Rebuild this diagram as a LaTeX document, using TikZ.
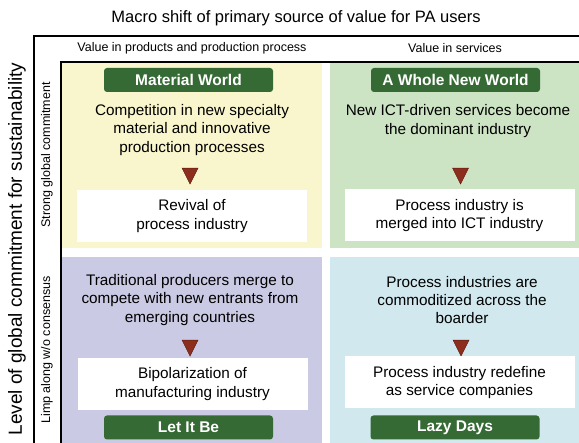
\documentclass[tikz,border=0pt]{standalone}
\usepackage{fontspec}
\setmainfont{Liberation Sans}
\usetikzlibrary{shapes.geometric}

\definecolor{quadyellow}{HTML}{F9F6CD}
\definecolor{quadgreen}{HTML}{CCE4C4}
\definecolor{quadpurple}{HTML}{CACAE4}
\definecolor{quadcyan}{HTML}{D0E8EE}
\definecolor{tabgreen}{HTML}{356A34}
\definecolor{tipred}{HTML}{8C2D1E}
\definecolor{tipdark}{HTML}{5A1A10}

\begin{document}
\begin{tikzpicture}[
  x=1pt, y=-1pt,
  frame/.style = {line width=1.4pt},
  body/.style = {align=center, inner sep=0pt, font=\fontsize{15.3}{18.4}\selectfont},
  head/.style = {inner sep=0pt, font=\fontsize{12.5}{15}\selectfont},
  tab/.style = {fill=tabgreen, rounded corners=3pt, text=white, inner sep=0pt,
    minimum width=169pt, minimum height=24pt, font=\bfseries\fontsize{15.5}{18}\selectfont},
  result/.style = {body, fill=white, minimum width=230pt, minimum height=52pt},
  tip/.style = {isosceles triangle, isosceles triangle apex angle=53, isosceles triangle stretches,
    shape border rotate=270, minimum width=16pt, minimum height=16pt,
    fill=tipred, draw=tipdark, line width=0.4pt, inner sep=0pt}
  ]
	\useasboundingbox (0,0) rectangle (579,443);

	% quadrants
	\fill[quadyellow] (62,62) rectangle (322,248);
	\fill[quadgreen]  (330,62) rectangle (590,248);
	\fill[quadpurple] (62,257) rectangle (322,450);
	\fill[quadcyan]   (330,257) rectangle (590,450);

	\draw[frame] (34,450) |- (590,36);
	\draw[frame] (61,450) |- (590,62);

	\node[font=\fontsize{16.5}{20}\selectfont] (title) at (296,18) {Macro shift of primary source of value for PA users};
	\node[head] (colprod) at (192,48) {Value in products and production process};
	\node[head] (colserv) at (455,48) {Value in services};

	\node[rotate=90, font=\fontsize{19}{22}\selectfont] (level) at (17,249) {Level of global commitment for sustainability};
	\node[head, rotate=90] (rowstrong) at (47,155) {Strong global commitment};
	\node[head, rotate=90] (rowlimp) at (47,350) {Limp along w/o consensus};

	% upper left
	\node[tab] (material) at (188.5,80) {Material World};
	\node[body] (materialtxt) at (192,130) {Competition in new specialty\\material and innovative\\production processes};
	\node[tip] (materialtip) at (190,173) {};
	\node[result] (materialres) at (192,216) {Revival of\\process industry};

	% upper right
	\node[tab] (whole) at (455.5,80) {A Whole New World};
	\node[body] (wholetxt) at (458,121) {New ICT-driven services become\\the dominant industry};
	\node[tip] (wholetip) at (460.5,173) {};
	\node[result] (wholeres) at (459.5,215.5) {Process industry is\\merged into ICT industry};

	% lower left
	\node[body] (letittxt) at (190,300) {Traditional producers merge to\\compete with new entrants from\\emerging countries};
	\node[tip] (letittip) at (190,345) {};
	\node[result] (letitres) at (192.5,384) {Bipolarization of\\manufacturing industry};
	\node[tab] (letit) at (188.5,427.5) {Let It Be};

	% lower right
	\node[body] (lazytxt) at (462,300) {Process industries are\\commoditized across the\\boarder};
	\node[tip] (lazytip) at (461,345) {};
	\node[result] (lazyres) at (459.5,382.5) {Process industry redefine\\as service companies};
	\node[tab] (lazy) at (455,427.5) {Lazy Days};

\end{tikzpicture}
\end{document}
